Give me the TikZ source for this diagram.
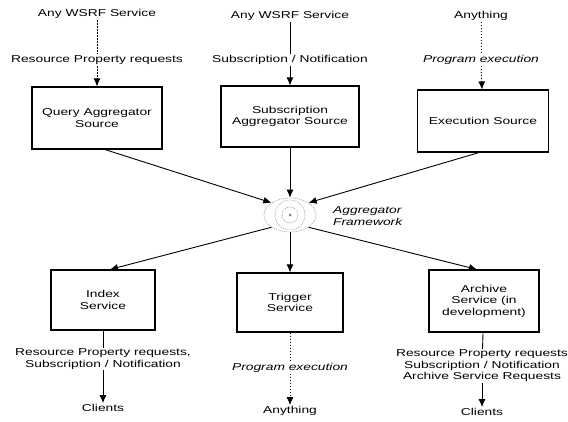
\documentclass[tikz,border=0pt]{standalone}
\usepackage{fontspec}
\setmainfont{Liberation Sans}[FakeStretch=1.38]
\usetikzlibrary{arrows.meta,shapes.geometric}
\begin{document}
\begin{tikzpicture}[x=1pt,y=-1pt,
  txt/.style={font=\fontsize{10}{11.5}\selectfont, align=center, inner sep=1pt},
  itxt/.style={font=\fontsize{10}{11.5}\selectfont\itshape, align=center, inner sep=1pt},
  box/.style={draw, line width=1.1pt, rectangle, align=center, inner sep=2pt,
    font=\fontsize{10}{11.5}\selectfont},
  arr/.style={-{Latex[length=8pt,width=7pt]}, line width=0.9pt},
  ln/.style={line width=0.9pt},
  dashln/.style={line width=0.9pt, dash pattern=on 2pt off 1pt},
  dotln/.style={line width=0.9pt, dash pattern=on 1.2pt off 1.8pt},
  fwline/.style={gray!70, line width=0.7pt, dash pattern=on 1pt off 1pt},
]
\useasboundingbox (0,0) rectangle (568,422);

% top row texts
\node[txt] (t1a) at (97,14) {Any WSRF Service};
\node[txt] (t1b) at (97,60) {Resource Property requests};
\node[txt] (t2a) at (290,16) {Any WSRF Service};
\node[txt] (t2b) at (290,60) {Subscription / Notification};
\node[txt] (t3a) at (481,16) {Anything};
\node[itxt] (t3b) at (481,60) {Program execution};

% top boxes
\node[box, minimum width=130, minimum height=62] (qa) at (97,118) {Query Aggregator\\Source};
\node[box, minimum width=138, minimum height=61] (sa) at (290,116.5) {Subscription\\Aggregator Source};
\node[box, minimum width=131, minimum height=62] (es) at (483,121) {Execution Source};

% framework
\node[ellipse, minimum width=52, minimum height=34, draw, fwline] (fw) at (290,215) {};
\draw[fwline] (290,215) ellipse (15 and 15);
\draw[fwline] (290,215) circle (8);
\fill[gray] (290,215) circle (1.5);
\node[itxt, align=left, anchor=west] (fwl) at (332,216) {Aggregator\\Framework};

% bottom boxes
\node[box, minimum width=104, minimum height=60] (ix) at (103,300) {Index\\Service};
\node[box, minimum width=106, minimum height=59] (tr) at (290,302.5) {Trigger\\Service};
\node[box, minimum width=110, minimum height=62] (ar) at (484,301) {Archive\\Service (in\\development)};

% bottom texts
\node[txt] (b1a) at (103,359) {Resource Property requests,\\Subscription / Notification};
\node[txt] (b1b) at (103,408) {Clients};
\node[itxt] (b2a) at (290,368) {Program execution};
\node[txt] (b2b) at (290,411) {Anything};
\node[txt] (b3a) at (482,366) {Resource Property requests\\Subscription / Notification\\Archive Service Requests};
\node[txt] (b3b) at (482,412) {Clients};

% top connectors
\draw[dashln] (t1a) -- (t1b);
\draw[dashln, arr] (t1b) -- (qa);
\draw[ln] (t2a) -- (t2b);
\draw[arr] (t2b) -- (sa);
\draw[dotln] (t3a) -- (t3b);
\draw[dotln, arr] (t3b) -- (es);

% into framework
\draw[arr] ([xshift=8pt]qa.south) -- (fw.north west);
\draw[arr] (sa.south) -- (fw.north);
\draw[arr] ([xshift=-4pt]es.south) -- (fw.north east);

% out of framework
\draw[arr] (fw.south west) -- ([xshift=7pt]ix.north);
\draw[arr] (fw.south) -- (tr.north);
\draw[arr] (fw.south east) -- ([xshift=-7pt]ar.north);

% bottom connectors
\draw[ln] (ix) -- (b1a);
\draw[arr] (b1a) -- (b1b);
\draw[dotln] (tr) -- (b2a);
\draw[dotln, arr] (b2a) -- (b2b);
\draw[ln] (ar) -- (b3a);
\draw[arr] (b3a) -- (b3b);
\end{tikzpicture}
\end{document}
